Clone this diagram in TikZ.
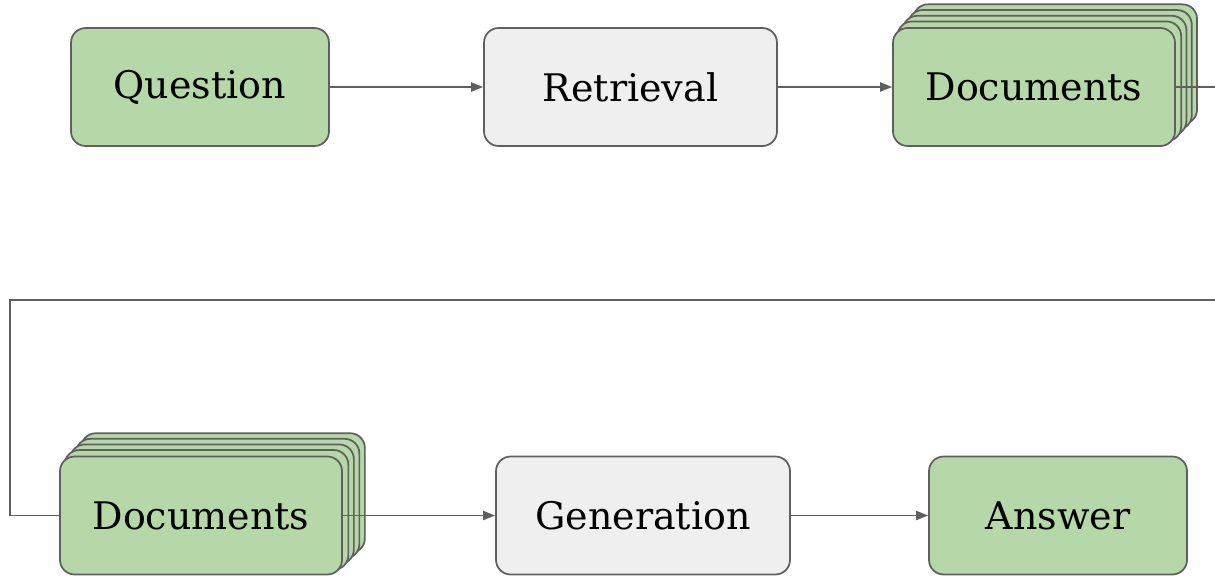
\documentclass[tikz,border=0pt]{standalone}
\usepackage{fontspec}
\setmainfont{DejaVu Serif}
\usetikzlibrary{arrows.meta,backgrounds}
\definecolor{boxgreen}{HTML}{B6D7A8}
\definecolor{boxgray}{HTML}{EFEFEF}
\definecolor{edgegray}{HTML}{5F5F5F}
\tikzset{
  card/.style={draw=edgegray, line width=1.3pt, rounded corners=11pt,
    minimum height=88.5pt, inner sep=0pt, font=\fontsize{28.5}{34}\selectfont},
  greencard/.style={card, fill=boxgreen},
  graycard/.style={card, fill=boxgray},
  sheet/.style={draw=edgegray, line width=1.3pt, fill=boxgreen, rounded corners=11pt},
  flow/.style={draw=edgegray, line width=1.4pt,
    -{Triangle[length=9pt,width=6.8pt]}},
  link/.style={draw=edgegray, line width=1.4pt},
}
\begin{document}
\begin{tikzpicture}[x=0.75pt,y=-0.75pt]
  \useasboundingbox (0,0) rectangle (1215,576);
  \clip (0,0) rectangle (1215,576);

  % top row
  \node[greencard, minimum width=193.5pt] (question) at (200,87) {Question};
  \node[graycard, minimum width=219.75pt] (retrieval) at (630.5,87) {Retrieval};
  \node[greencard, minimum width=211.5pt] (docA) at (1034,87) {Documents};

  % bottom row
  \node[greencard, minimum width=211.5pt] (docB) at (201,515.5) {Documents};
  \node[graycard, minimum width=220.5pt] (generation) at (643,515.5) {Generation};
  \node[greencard, minimum width=193.5pt] (answer) at (1058,515.5) {Answer};

  % white page and the stacked sheets behind both document cards
  \begin{scope}[on background layer]
    \fill[white] (0,0) rectangle (1215,576);
    \foreach \k in {4,3,2,1}{
      \draw[sheet]
        ([shift={(\k*5.3,-\k*5.7)}]docA.south west) rectangle
        ([shift={(\k*5.3,-\k*5.7)}]docA.north east);
      \draw[sheet]
        ([shift={(\k*5.5,-\k*5.6)}]docB.south west) rectangle
        ([shift={(\k*5.5,-\k*5.6)}]docB.north east);
    }
  \end{scope}

  % connectors
  \draw[flow] (question) -- (retrieval);
  \draw[flow] (retrieval) -- (docA);
  \draw[flow] (docB) -- (generation);
  \draw[flow] (generation) -- (answer);

  % wrap-around from the first row to the second
  \coordinate (loopR) at (1235,300);
  \coordinate (loopL) at (10,300);
  \draw[link] (docA.east) -| (loopR) -- (loopL) |- (docB.west);
\end{tikzpicture}
\end{document}
